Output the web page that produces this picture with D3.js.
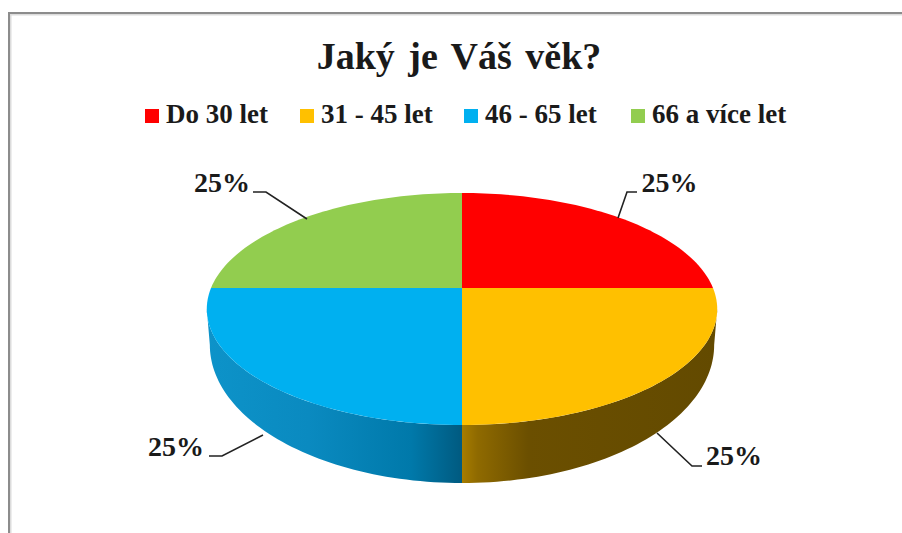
<!DOCTYPE html>
<html>
<head>
<meta charset="utf-8">
<script src="https://cdn.jsdelivr.net/npm/d3@7"></script>
<style>
  html, body { margin: 0; padding: 0; background: #fff; }
  svg { display: block; }
  text { font-family: "Liberation Serif", serif; font-weight: bold; fill: #1a1a1a; }
</style>
</head>
<body>
<div id="chart"></div>
<script>
var titleText = 'Jaký je Váš věk?';
var categories = ['Do 30 let', '31 - 45 let', '46 - 65 let', '66 a více let'];
var values = [25, 25, 25, 25];
var colors = ['#ff0000', '#ffc000', '#00b0f0', '#92cd4f'];
var valueLabels = ['25%', '25%', '25%', '25%'];

var width = 902, height = 533;

var svg = d3.select('#chart').append('svg')
  .attr('width', width)
  .attr('height', height);

// frame, only top and left are in the picture
svg.append('path')
  .attr('d', d3.line()([[10.5, height], [10.5, 14.5], [width, 14.5]]))
  .attr('fill', 'none')
  .attr('stroke', '#dcdcdc')
  .attr('stroke-width', 2);
svg.append('path')
  .attr('d', d3.line()([[9, height], [9, 13], [width, 13]]))
  .attr('fill', 'none')
  .attr('stroke', '#8c8c8c')
  .attr('stroke-width', 2);

svg.append('text')
  .attr('x', 459)
  .attr('y', 69)
  .attr('text-anchor', 'middle')
  .attr('font-size', 38)
  .attr('word-spacing', 4)
  .text(titleText);

// legend
var legendX = [145, 300, 464, 631];
var legend = svg.selectAll('.legend').data(categories).enter().append('g')
  .attr('class', 'legend')
  .attr('transform', function(d, i){ return 'translate(' + legendX[i] + ',109)'; });
legend.append('rect')
  .attr('width', 14).attr('height', 14)
  .attr('fill', function(d, i){ return colors[i]; });
legend.append('text')
  .attr('x', 21).attr('y', 14)
  .attr('font-size', 27)
  .text(function(d){ return d; });

// pie in perspective: the apex is off the ellipse centre
var persp = -0.181;
var rows = {
  top: { cx: 462, cy: 288, a: 251, b: 112.2 },
  bottom: { cx: 462, cy: 320, a: 248, b: 133.5 }
};

function project(angle, row) {
  var x = Math.sin(angle), y = -Math.cos(angle);
  var w = 1 + persp * y;
  return [row.cx + row.a * x / w, row.cy + row.b * y / w];
}

function edge(a0, a1, row) {
  return d3.range(0, 61).map(function(i){
    return project(a0 + (a1 - a0) * i / 60, row);
  });
}

var slices = d3.pie().sort(null)(values);
var line = d3.line();

var defs = svg.append('defs');
function wallGradient(id, stops) {
  defs.append('linearGradient')
    .attr('id', id)
    .attr('gradientUnits', 'userSpaceOnUse')
    .attr('x1', 207).attr('x2', 717).attr('y1', 0).attr('y2', 0)
    .selectAll('stop').data(stops).enter().append('stop')
    .attr('offset', function(d){ return d[0]; })
    .attr('stop-color', function(d){ return d[1]; });
}
wallGradient('wall1', [[0.5, '#a67c00'], [0.53, '#8f6a00'], [0.63, '#6b4f00'], [1, '#634a00']]);
wallGradient('wall2', [[0, '#0d93c9'], [0.2, '#0a8ac0'], [0.4, '#0079aa'], [0.5, '#005a80']]);

// side wall, only the slices facing the viewer
var silhouette = Math.acos(persp);
var walls = [
  { id: 'wall1', a0: silhouette, a1: Math.PI },
  { id: 'wall2', a0: Math.PI, a1: 2 * Math.PI - silhouette }
];
svg.selectAll('.wall').data(walls).enter().append('path')
  .attr('class', 'wall')
  .attr('fill', function(d){ return 'url(#' + d.id + ')'; })
  .attr('d', function(d){
    var pts = edge(d.a0, d.a1, rows.top).concat(edge(d.a1, d.a0, rows.bottom));
    return line(pts) + 'Z';
  });

// top face
svg.selectAll('.slice').data(slices).enter().append('path')
  .attr('class', 'slice')
  .attr('fill', function(d, i){ return colors[i]; })
  .attr('d', function(d){
    var pts = [[rows.top.cx, rows.top.cy]].concat(edge(d.startAngle, d.endAngle, rows.top));
    return line(pts) + 'Z';
  });

// data labels with their leader lines, in slice order
var labelPos = [[669.5, 192], [734, 465], [176, 456], [222, 192]];
var leaderAnchors = [[637, 192], [702, 466], [209, 456], [253, 192]];
var leaderKnee = [[627, 192], [692, 466], [222, 456], [266, 192]];
var leaderEnds = [[618, 218], [657, 433], [263, 435], [307, 219]];

svg.selectAll('.leader').data(slices).enter().append('path')
  .attr('class', 'leader')
  .attr('fill', 'none')
  .attr('stroke', '#222')
  .attr('stroke-width', 1.6)
  .attr('d', function(d, i){
    return line([leaderAnchors[i], leaderKnee[i], leaderEnds[i]]);
  });

svg.selectAll('.value').data(valueLabels).enter().append('text')
  .attr('class', 'value')
  .attr('x', function(d, i){ return labelPos[i][0]; })
  .attr('y', function(d, i){ return labelPos[i][1]; })
  .attr('text-anchor', 'middle')
  .attr('font-size', 28)
  .text(function(d){ return d; });
</script>
</body>
</html>
